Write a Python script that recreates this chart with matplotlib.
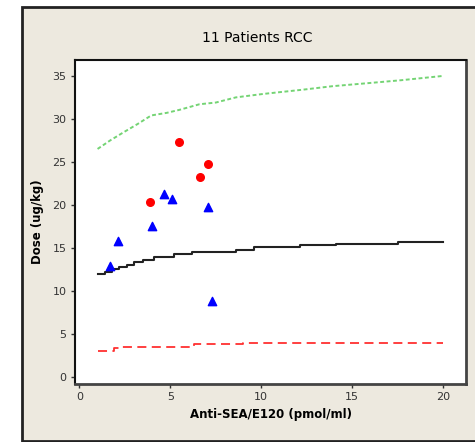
import matplotlib
matplotlib.use("Agg")
import matplotlib.pyplot as plt
from matplotlib.patches import Rectangle

# patients: responders (red circles) and others (blue triangles)
red_x = [3.9, 5.45, 6.65, 7.05]
red_y = [20.3, 27.3, 23.2, 24.7]
blue_x = [1.7, 2.1, 4.0, 4.65, 5.1, 7.05, 7.3]
blue_y = [12.9, 15.8, 17.5, 21.2, 20.7, 19.7, 8.8]

# median line (black)
mid_x = [1.0, 1.4, 1.8, 2.2, 2.6, 3.0, 3.5, 4.1, 5.2, 6.2, 8.6, 9.6, 12.1, 14.1, 17.5, 20.0]
mid_y = [11.9, 12.2, 12.5, 12.75, 13.0, 13.3, 13.6, 13.95, 14.25, 14.5, 14.8, 15.05, 15.28, 15.47, 15.7, 15.7]
# upper limit (green dotted)
up_x = [1.0, 1.7, 2.4, 3.2, 3.95, 4.8, 5.5, 6.6, 7.5, 8.6, 10.1, 12.3, 13.9, 16.1, 17.7, 20.0]
up_y = [26.5, 27.5, 28.4, 29.4, 30.4, 30.7, 31.05, 31.7, 31.9, 32.5, 32.9, 33.4, 33.8, 34.2, 34.5, 35.0]
# lower limit (red dashed)
low_x = [1.0, 1.9, 2.2, 6.3, 9.0, 20.0]
low_y = [3.0, 3.3, 3.5, 3.8, 3.95, 3.95]

xticks = [0, 5, 10, 15, 20]
yticks = [0, 5, 10, 15, 20, 25, 30, 35]

plt.rcParams['font.family'] = ['DejaVu Sans']

fig = plt.figure(figsize=(4.75, 4.42), dpi=100, facecolor='white')
fig.patches.append(Rectangle((22 / 475, 1 - 441 / 442), 1.2, 434 / 442,
                             transform=fig.transFigure, facecolor='#EDE9DF',
                             edgecolor='#222222', linewidth=2, zorder=-1))

ax = fig.add_axes([75 / 475, 1 - 384 / 442, 391 / 475, 324 / 442])
ax.set_facecolor('white')

ax.plot(up_x, up_y, color='#74D474', linestyle=(0, (2, 1.3)), linewidth=1.4)
ax.plot(mid_x, mid_y, color='#222222', linewidth=1.5, drawstyle='steps-post')
ax.plot(low_x, low_y, color='#FF3030', linestyle=(0, (5, 3)), linewidth=1.3, drawstyle='steps-post')

ax.scatter(red_x, red_y, color='red', marker='o', s=30, zorder=3)
ax.scatter(blue_x, blue_y, color='blue', marker='^', s=36, zorder=3)

ax.set_xlim(-0.24, 21.25)
ax.set_ylim(-0.85, 36.85)
ax.set_xticks(xticks)
ax.set_yticks(yticks)
ax.tick_params(direction='out', length=3, width=1, labelsize=8, colors='#333333', pad=3)

for side in ['top', 'left']:
    ax.spines[side].set_linewidth(1.5)
    ax.spines[side].set_color('#111111')
for side in ['right', 'bottom']:
    ax.spines[side].set_linewidth(2)
    ax.spines[side].set_color('#444444')

fig.text(257 / 475, 1 - 38 / 442, '11 Patients RCC', ha='center', va='center', fontsize=10)
ax.set_xlabel('Anti-SEA/E120 (pmol/ml)', fontsize=8.5, fontweight='bold', labelpad=4)
ax.set_ylabel('Dose (ug/kg)', fontsize=8.5, fontweight='bold', labelpad=6)

fig.savefig('out.png', dpi=100, facecolor=fig.get_facecolor())
